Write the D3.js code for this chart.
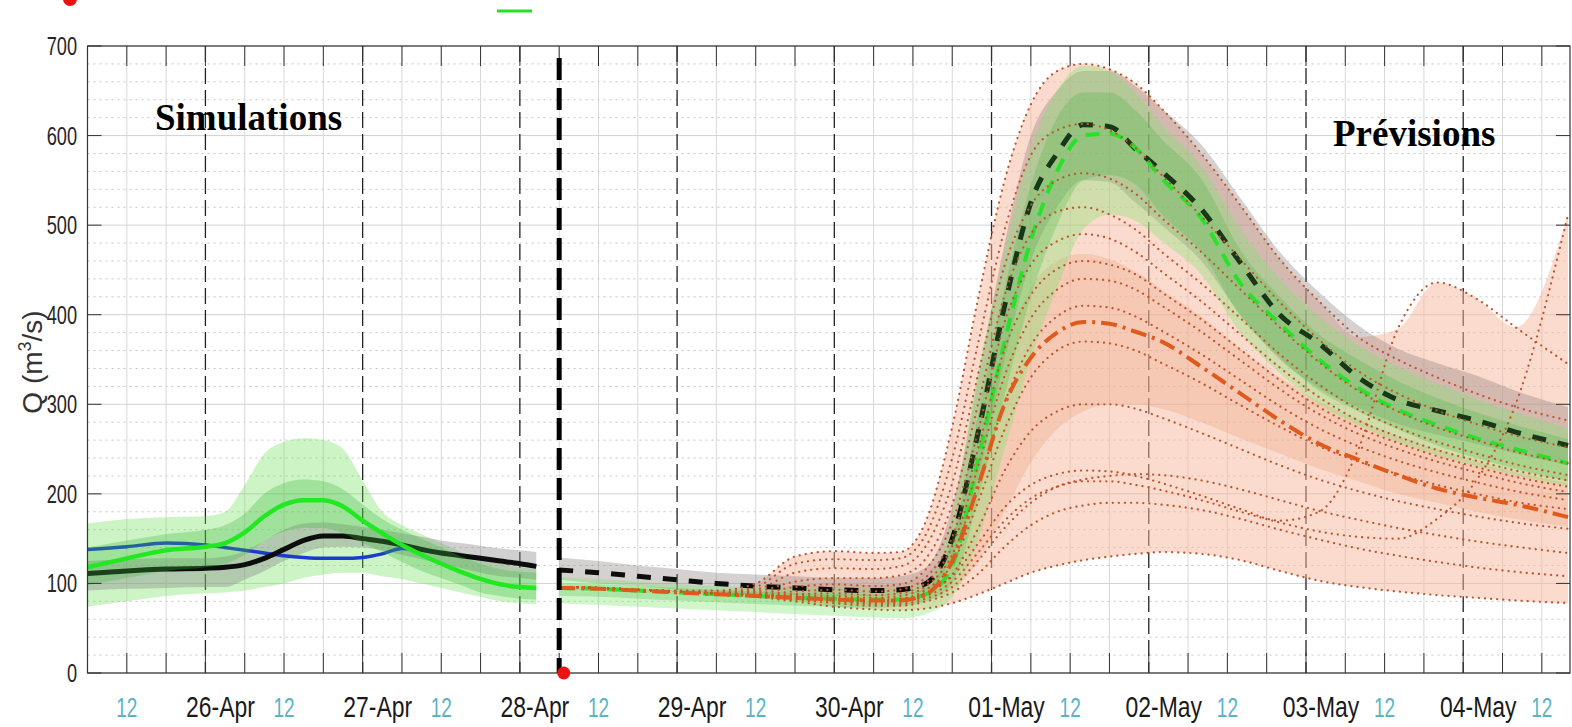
<!DOCTYPE html>
<html>
<head>
<meta charset="utf-8">
<script src="https://cdn.jsdelivr.net/npm/d3@7"></script>
<style>
  body { margin: 0; background: #fff; }
  svg { display: block; font-family: "Liberation Sans", Arial, sans-serif; }
</style>
</head>
<body>
<div id="chart"></div>
<script>

// Simulation period, hours counted from 25-Apr 00:00.
const simHours = [6, 12, 18, 24, 27, 30, 33, 36, 39, 42, 45, 48, 51, 54, 57, 60, 63, 66, 69, 72, 74.5];
const simBlack = [111, 114, 116, 117, 118, 121, 128, 138, 148, 153, 153, 150, 147, 143, 138, 134, 131, 128, 125, 122, 119];
const simBlue  = [138, 141, 145, 143, 140, 137, 134, 131, 129, 128, 128, 129, 133, 139, 137, 134, 131, 128, 125, 122, 119];
const simGreen = [118, 128, 137, 141, 145, 157, 175, 188, 193, 193, 186, 170, 156, 143, 132, 122, 113, 105, 99, 96, 95];
const simGreenOutUp = [167, 172, 174, 175, 180, 210, 245, 258, 262, 260, 250, 215, 180, 165, 155, 145, 135, 127, 122, 118, 116];
const simGreenOutLo = [74, 80, 86, 89, 90, 92, 96, 100, 106, 110, 112, 112, 108, 105, 100, 95, 90, 85, 80, 78, 77];
const simGreenInUp  = [140, 148, 155, 160, 165, 178, 200, 212, 216, 214, 205, 188, 172, 160, 150, 140, 130, 122, 116, 113, 112];
const simGreenInLo  = [98, 106, 114, 118, 122, 132, 148, 158, 162, 162, 156, 145, 135, 124, 114, 106, 98, 90, 86, 83, 82];
const simGrayUp = [125, 127, 128, 128, 130, 136, 148, 160, 167, 168, 166, 163, 160, 156, 152, 148, 145, 142, 139, 137, 135];
const simGrayLo = [92, 94, 95, 96, 96, 104, 114, 125, 134, 140, 141, 140, 137, 132, 127, 122, 117, 112, 108, 106, 104];

// Forecast period.
const fcHours = [78, 84, 90, 96, 102, 108, 114, 120, 126, 130, 134, 138, 142, 146, 150, 154, 158, 162, 166, 170, 176, 182, 188, 194, 200, 206, 212, 218, 224, 232];
const fcBlack = [115, 112, 108, 104, 100, 97, 95, 93, 92, 93, 100, 150, 270, 410, 525, 580, 612, 610, 585, 560, 518, 458, 400, 368, 330, 305, 293, 282, 269, 254];
const fcGreen = [95, 94, 92, 90, 88, 86, 84, 83, 82, 82, 88, 120, 240, 370, 483, 560, 600, 602, 586, 552, 508, 435, 390, 350, 318, 294, 277, 262, 250, 234];
const fcRed   = [95, 94, 92, 90, 88, 86, 84, 82, 81, 81, 88, 125, 210, 300, 352, 380, 392, 390, 381, 370, 342, 312, 282, 256, 238, 221, 206, 196, 188, 174];
const fcGrayUp = [129, 125, 120, 116, 112, 110, 108, 106, 106, 108, 118, 185, 330, 480, 600, 650, 672, 672, 655, 630, 590, 530, 470, 425, 388, 362, 346, 332, 315, 297];
const fcGrayLo = [104, 100, 97, 93, 90, 88, 87, 86, 86, 87, 92, 130, 220, 350, 460, 520, 550, 548, 525, 500, 460, 400, 350, 318, 296, 278, 266, 256, 245, 232];
const fcGreenOutUp = [107, 105, 102, 99, 97, 96, 95, 95, 94, 95, 100, 175, 340, 470, 585, 650, 678, 672, 648, 612, 566, 495, 440, 398, 366, 342, 323, 306, 291, 273];
const fcGreenOutLo = [78, 76, 74, 72, 70, 68, 66, 64, 62, 61, 66, 85, 150, 250, 350, 430, 495, 512, 505, 482, 445, 380, 335, 300, 277, 258, 243, 231, 221, 208];
const fcGreenInUp = [100, 99, 97, 95, 93, 91, 89, 88, 87, 88, 95, 150, 290, 430, 545, 620, 648, 648, 628, 596, 552, 472, 420, 378, 350, 326, 307, 291, 277, 261];
const fcGreenInLo = [86, 85, 83, 81, 79, 77, 75, 74, 73, 74, 80, 100, 195, 310, 420, 500, 550, 556, 545, 512, 470, 398, 352, 315, 292, 272, 254, 240, 228, 214];
const fcInnerUp = [97, 96, 94, 92, 90, 90, 98, 100, 98, 100, 112, 150, 250, 360, 430, 460, 468, 462, 448, 428, 398, 362, 330, 303, 283, 265, 250, 236, 224, 212];
const fcInnerLo = [93, 92, 90, 88, 86, 84, 80, 78, 76, 76, 80, 92, 125, 180, 235, 272, 292, 300, 300, 295, 280, 262, 245, 228, 214, 200, 190, 180, 172, 163];

// Ensemble members (dotted).
const members = [
  [96, 95, 93, 92, 92, 100, 130, 136, 134, 135, 170, 275, 420, 550, 635, 672, 680, 674, 658, 630, 580, 522, 462, 415, 375, 350, 330, 312, 297, 282],
  [96, 95, 93, 91, 90, 96, 122, 127, 126, 128, 155, 240, 370, 495, 578, 606, 613, 606, 586, 556, 510, 462, 414, 372, 337, 312, 293, 278, 265, 252],
  [96, 95, 93, 91, 89, 93, 112, 117, 116, 119, 142, 212, 335, 455, 522, 550, 558, 552, 535, 508, 470, 428, 386, 347, 315, 292, 274, 260, 247, 234],
  [96, 95, 93, 91, 89, 91, 102, 106, 106, 109, 128, 188, 302, 422, 490, 515, 520, 512, 495, 470, 435, 396, 356, 322, 294, 274, 258, 245, 233, 221],
  [96, 95, 93, 91, 89, 89, 96, 99, 97, 99, 116, 168, 272, 392, 456, 482, 490, 485, 470, 448, 415, 378, 341, 308, 282, 264, 249, 237, 226, 215],
  [96, 95, 93, 91, 89, 88, 91, 93, 91, 93, 107, 152, 252, 362, 422, 451, 460, 456, 445, 425, 395, 361, 327, 297, 274, 257, 242, 230, 219, 208],
  [96, 95, 93, 91, 89, 87, 88, 89, 87, 89, 101, 142, 232, 332, 396, 428, 440, 438, 428, 410, 381, 349, 317, 289, 267, 250, 236, 224, 213, 202],
  [96, 95, 93, 91, 89, 87, 86, 86, 84, 86, 97, 132, 212, 302, 366, 398, 410, 408, 398, 382, 356, 327, 298, 273, 253, 237, 224, 213, 203, 193],
  [96, 95, 93, 91, 89, 87, 85, 84, 82, 83, 93, 122, 192, 272, 330, 360, 370, 368, 360, 346, 324, 299, 275, 253, 236, 222, 210, 200, 191, 183],
  [96, 95, 93, 91, 89, 87, 84, 82, 80, 80, 89, 110, 162, 226, 270, 292, 300, 300, 295, 285, 268, 250, 232, 216, 203, 192, 183, 175, 168, 161],
  [96, 95, 93, 91, 89, 87, 83, 80, 77, 77, 83, 96, 126, 162, 190, 208, 216, 220, 222, 221, 215, 205, 193, 181, 171, 162, 154, 147, 141, 134],
  [96, 95, 93, 91, 89, 86, 82, 78, 75, 75, 80, 90, 111, 141, 165, 180, 187, 190, 190, 188, 182, 172, 160, 149, 139, 131, 124, 118, 113, 108],
  [96, 95, 93, 91, 88, 85, 80, 74, 71, 70, 72, 78, 88, 100, 112, 120, 126, 130, 133, 135, 133, 126, 114, 103, 96, 91, 87, 84, 81, 78],
  [96, 95, 93, 91, 89, 87, 85, 83, 80, 81, 90, 108, 145, 185, 210, 222, 226, 225, 220, 212, 198, 183, 170, 180, 250, 384, 436, 418, 386, 345],
  [96, 95, 93, 91, 89, 87, 84, 81, 79, 79, 86, 102, 135, 170, 195, 208, 214, 214, 210, 204, 193, 180, 168, 158, 152, 150, 172, 215, 300, 512]
];

// Observation marker at forecast start.
const obsHour = 78.7, obsQ = 0;
const yTicks = [0, 100, 200, 300, 400, 500, 600, 700];


// Layout.
const W = 1572, H = 727;
const plot = {left: 87.5, right: 1570, top: 46, bottom: 673};

const base = new Date(2019, 3, 25, 0);
function hrs(h) { return new Date(base.getTime() + h * 3600e3); }

var x = d3.scaleTime()
  .domain([hrs(6), hrs(232.3)])
  .range([plot.left, plot.right]);

var y = d3.scaleLinear()
  .domain([0, 700])
  .range([plot.bottom, plot.top]);

var svg = d3.select("#chart").append("svg")
  .attr("width", W)
  .attr("height", H);

svg.append("defs").append("clipPath").attr("id", "clip")
  .append("rect")
  .attr("x", plot.left).attr("y", plot.top)
  .attr("width", plot.right - plot.left)
  .attr("height", plot.bottom - plot.top);

// Grid.
var grid = svg.append("g");
var minorY = d3.range(20, 700, 20).filter(function(v) { return v % 100 != 0; });
grid.selectAll(".minY").data(minorY).enter().append("line")
  .attr("x1", plot.left).attr("x2", plot.right)
  .attr("y1", d => y(d)).attr("y2", d => y(d))
  .attr("stroke", "#c4c4c4").attr("stroke-dasharray", "2,4");

grid.selectAll(".majY").data(yTicks).enter().append("line")
  .attr("x1", plot.left).attr("x2", plot.right)
  .attr("y1", d => y(d)).attr("y2", d => y(d))
  .attr("stroke", "#d2d2d2");

var xTicks = d3.timeHour.every(6).range(hrs(6), hrs(232.4));
grid.selectAll(".vx").data(xTicks.filter(d => d.getHours() != 0)).enter().append("line")
  .attr("x1", d => x(d)).attr("x2", d => x(d))
  .attr("y1", plot.top).attr("y2", plot.bottom)
  .attr("stroke", "#d8d8d8");

grid.selectAll(".vday").data(xTicks.filter(d => d.getHours() == 0)).enter().append("line")
  .attr("x1", d => x(d)).attr("x2", d => x(d))
  .attr("y1", plot.top).attr("y2", plot.bottom)
  .attr("stroke", "#222").attr("stroke-width", 1.3)
  .attr("stroke-dasharray", "16,6");

// Helpers for bands and lines.
function bandData(hours, lo, hi) {
  return hours.map(function(h, i) { return {h: h, lo: lo[i], hi: hi[i]}; });
}
function lineData(hours, vals) {
  return hours.map(function(h, i) { return {h: h, v: vals[i]}; });
}
var area = d3.area()
  .x(d => x(hrs(d.h)))
  .y0(d => y(d.lo))
  .y1(d => y(d.hi))
  .curve(d3.curveMonotoneX);
var line = d3.line()
  .x(d => x(hrs(d.h)))
  .y(d => y(d.v))
  .curve(d3.curveMonotoneX);

var layer = svg.append("g").attr("clip-path", "url(#clip)");

function band(hours, lo, hi, fill, op) {
  layer.append("path").datum(bandData(hours, lo, hi))
    .attr("d", area).attr("fill", fill).attr("fill-opacity", op);
}
function curve(hours, vals, color, width, dash) {
  layer.append("path").datum(lineData(hours, vals))
    .attr("d", line).attr("fill", "none")
    .attr("stroke", color).attr("stroke-width", width)
    .attr("stroke-dasharray", dash || null)
    .attr("stroke-linecap", dash == "0.1,6" ? "round" : "butt");
}

// Simulations.
band(simHours, simGreenOutLo, simGreenOutUp, "#6ee05a", 0.35);
band(simHours, simGrayLo, simGrayUp, "#8a8a8a", 0.4);
curve(simHours, simBlue, "#1a3ccc", 3.5);
curve(simHours, simBlack, "#0d0d0d", 5);
band(simHours, simGreenInLo, simGreenInUp, "#3cb83a", 0.3);
curve(simHours, simGreen, "#22e822", 4.5);

// Forecasts.
var envUp = fcHours.map((h, i) => d3.max(members, m => m[i]));
var envLo = fcHours.map((h, i) => d3.min(members, m => m[i]));
band(fcHours, envLo, envUp, "#f6b89c", 0.5);
band(fcHours, fcInnerLo, fcInnerUp, "#f0a07a", 0.3);
band(fcHours, fcGrayLo, fcGrayUp, "#8a7a7a", 0.35);
band(fcHours, fcGreenOutLo, fcGreenOutUp, "#7ee46a", 0.35);
curve(fcHours, fcBlack, "#0d0d0d", 5, "14,12");
band(fcHours, fcGreenInLo, fcGreenInUp, "#3cb83a", 0.25);
curve(fcHours, fcGreen, "#2be02b", 4, "14,10");
members.forEach(function(m) {
  curve(fcHours, m, "#c0552d", 2.2, "0.1,6");
});
curve(fcHours, fcRed, "#e05a1e", 4, "16,6,3,6");

// Axes box and ticks.
var axes = svg.append("g").attr("stroke", "#333");
axes.append("rect")
  .attr("x", plot.left).attr("y", plot.top)
  .attr("width", plot.right - plot.left).attr("height", plot.bottom - plot.top)
  .attr("fill", "none").attr("stroke-width", 1.2);
axes.selectAll(".tb").data(xTicks).enter().append("line")
  .attr("x1", d => x(d)).attr("x2", d => x(d))
  .attr("y1", plot.bottom).attr("y2", plot.bottom - 20);
axes.selectAll(".tt").data(xTicks).enter().append("line")
  .attr("x1", d => x(d)).attr("x2", d => x(d))
  .attr("y1", plot.top).attr("y2", plot.top + 20);
axes.selectAll(".tl").data(yTicks).enter().append("line")
  .attr("x1", plot.left).attr("x2", plot.left + 14)
  .attr("y1", d => y(d)).attr("y2", d => y(d));
axes.selectAll(".tr").data(yTicks).enter().append("line")
  .attr("x1", plot.right).attr("x2", plot.right - 14)
  .attr("y1", d => y(d)).attr("y2", d => y(d));

// Forecast start line and observation dot.
svg.append("line")
  .attr("x1", x(hrs(fcHours[0]))).attr("x2", x(hrs(fcHours[0])))
  .attr("y1", 58).attr("y2", plot.bottom)
  .attr("stroke", "#000").attr("stroke-width", 5)
  .attr("stroke-dasharray", "22,8");
svg.append("circle")
  .attr("cx", x(hrs(obsHour))).attr("cy", y(obsQ)).attr("r", 6.5)
  .attr("fill", "#ee1111");

// Labels.
function label(px, py, str, size, sx, anchor, fill) {
  return svg.append("text")
    .attr("transform", "translate(" + px + "," + py + ") scale(" + sx + ",1)")
    .attr("text-anchor", anchor)
    .attr("font-size", size)
    .attr("fill", fill)
    .text(str);
}

yTicks.forEach(function(v) {
  label(77, y(v) + 9, v, 26, 0.7, "end", "#262626");
});

var dayFmt = d3.timeFormat("%d-%b");
xTicks.forEach(function(d) {
  if (d.getHours() == 0) label(x(d) + 15, 717, dayFmt(d), 29, 0.79, "middle", "#1a1a1a");
  if (d.getHours() == 12) label(x(d), 717, "12", 28, 0.68, "middle", "#5ab4c6");
});

var yt = svg.append("text")
  .attr("transform", "translate(42,362) rotate(-90)")
  .attr("text-anchor", "middle")
  .attr("font-size", 28)
  .attr("fill", "#333");
yt.append("tspan").text("Q (m");
yt.append("tspan").attr("font-size", 18).attr("dy", -11).text("3");
yt.append("tspan").attr("dy", 11).text("/s)");

svg.append("text")
  .attr("x", 155).attr("y", 130)
  .attr("font-family", "Liberation Serif, Times New Roman, serif")
  .attr("font-weight", "bold").attr("font-size", 37)
  .text("Simulations");
svg.append("text")
  .attr("x", 1333).attr("y", 146)
  .attr("font-family", "Liberation Serif, Times New Roman, serif")
  .attr("font-weight", "bold").attr("font-size", 37)
  .text("Prévisions");

// Legend remnants cut at the top edge.
svg.append("circle").attr("cx", 70).attr("cy", -1).attr("r", 7).attr("fill", "#f01010");
svg.append("line").attr("x1", 497).attr("x2", 532).attr("y1", 11).attr("y2", 11)
  .attr("stroke", "#22e022").attr("stroke-width", 3);

</script>
</body>
</html>
